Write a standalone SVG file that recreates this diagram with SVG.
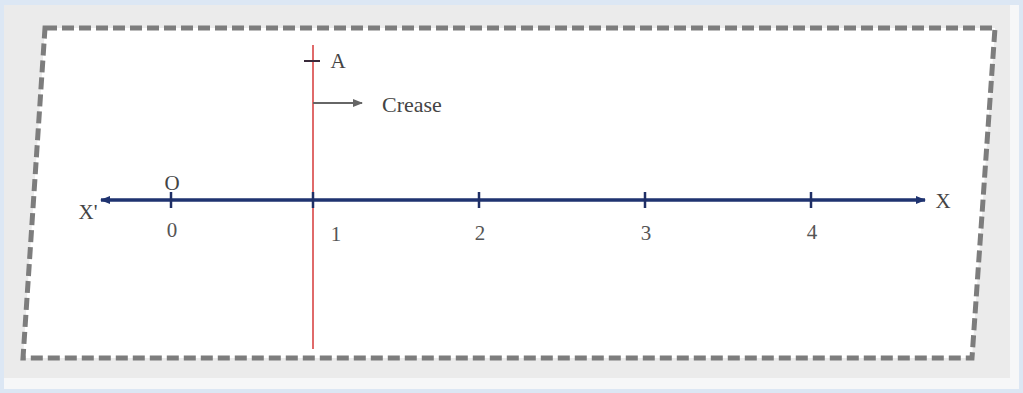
<svg xmlns="http://www.w3.org/2000/svg" width="1023" height="393" viewBox="0 0 1023 393">
<style>
.lbl{font-family:"Liberation Serif","Times New Roman",serif;fill:#555;font-size:21px;text-anchor:middle}
.tick{stroke:#1f2f66;stroke-width:2.5}
</style>
<defs>
<marker id="ah" markerWidth="10" markerHeight="8" refX="9" refY="4" orient="auto" markerUnits="userSpaceOnUse">
<path d="M0,0 L10,4 L0,8 Z" fill="#1f3370"/>
</marker>
<marker id="ahg" markerWidth="10" markerHeight="8" refX="9" refY="4" orient="auto" markerUnits="userSpaceOnUse">
<path d="M0,0 L10,4 L0,8 Z" fill="#666"/>
</marker>
</defs>
<rect x="0" y="0" width="1023" height="393" fill="#dce7f4"/>
<rect x="4" y="5" width="1015" height="384" fill="#f6f7f8"/>
<rect x="4" y="5" width="1006" height="373" fill="#ebebeb"/>
<polygon points="45,28 995,28 972,358 23,358" fill="#ffffff"/>
<polygon points="45,28 995,28 972,358 23,358" fill="none" stroke="#7d7d7d" stroke-width="5" stroke-dasharray="12 5"/>

<g id="crease">
<line x1="313" y1="45" x2="313" y2="349" stroke="#e06a6a" stroke-width="2"/>
<line x1="304" y1="61" x2="320" y2="61" stroke="#3a2a3a" stroke-width="2"/>
<text class="lbl" x="338" y="68" style="fill:#444">A</text>
<line x1="313" y1="103" x2="362" y2="103" stroke="#666" stroke-width="2" marker-end="url(#ahg)"/>
<text class="lbl" x="382" y="112" style="fill:#444;text-anchor:start;font-size:22px">Crease</text>
</g>

<g id="connectors">
<line x1="101" y1="200" x2="925" y2="200" stroke="#1f3370" stroke-width="3" marker-end="url(#ah)"/>
<line x1="925" y1="200" x2="101" y2="200" stroke="#1f3370" stroke-width="3" marker-end="url(#ah)"/>
</g>

<g id="ticks">
<line class="tick" x1="171" y1="192" x2="171" y2="208"/>
<line class="tick" x1="313" y1="192" x2="313" y2="208"/>
<line class="tick" x1="479" y1="192" x2="479" y2="208"/>
<line class="tick" x1="645" y1="192" x2="645" y2="208"/>
<line class="tick" x1="811" y1="192" x2="811" y2="208"/>
</g>

<g id="labels">
<text class="lbl" x="172" y="190" style="fill:#444">O</text>
<text class="lbl" x="88" y="219" style="fill:#444">X'</text>
<text class="lbl" x="943" y="208" style="fill:#444">X</text>
<text class="lbl" x="172" y="237">0</text>
<text class="lbl" x="336" y="241">1</text>
<text class="lbl" x="480" y="240">2</text>
<text class="lbl" x="646" y="240">3</text>
<text class="lbl" x="812" y="239">4</text>
</g>
</svg>
